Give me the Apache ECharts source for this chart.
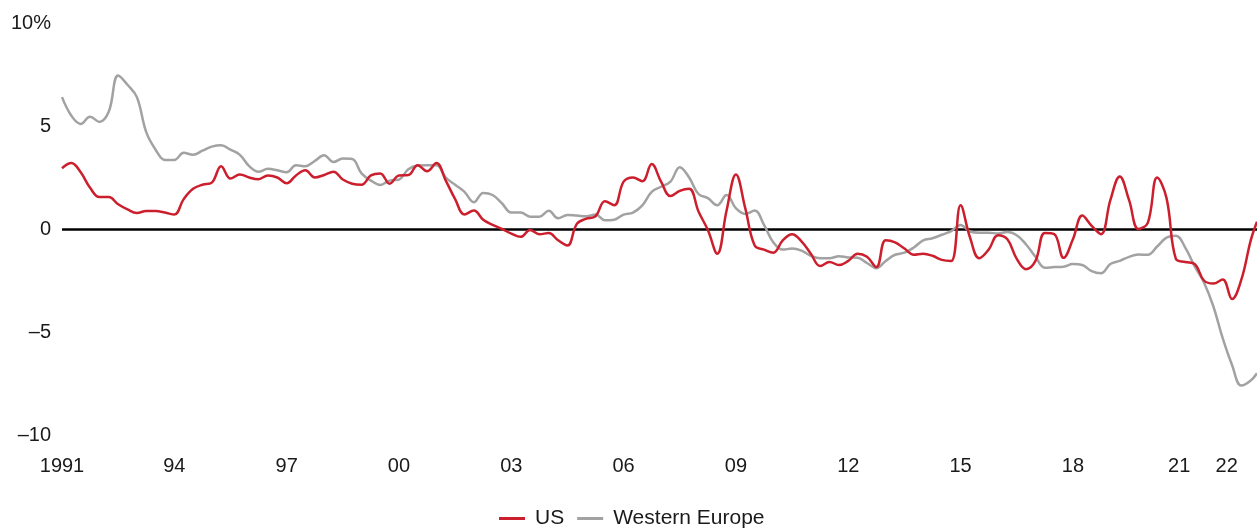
<!DOCTYPE html>
<html>
<head>
<meta charset="utf-8">
<title>US vs Western Europe</title>
<script src="https://cdn.jsdelivr.net/npm/echarts@6/dist/echarts.min.js"></script>
<style>
  html, body { margin: 0; padding: 0; background: #ffffff; }
  #chart { width: 1257px; height: 529px; }
</style>
</head>
<body>
<div id="chart"></div>
<script>
// Quarterly observations from January 1991; the final entry is December 2022.
const startYear = 1991;
const endPeriod = 2022 + 11 / 12;

const usValues = [
  2.95, 3.2, 2.75, 2.0, 1.55, 1.55, 1.2, 0.95, 0.78, 0.87, 0.87, 0.8, 0.7, 1.45, 1.95, 2.15,
  2.25, 3.05, 2.45, 2.65, 2.5, 2.42, 2.6, 2.5, 2.22, 2.6, 2.85, 2.5, 2.62, 2.78, 2.4, 2.2,
  2.15, 2.6, 2.7, 2.2, 2.6, 2.62, 3.1, 2.8, 3.2, 2.35, 1.45, 0.7, 0.9, 0.45, 0.2, 0.0,
  -0.22, -0.38, -0.05, -0.25, -0.2, -0.55, -0.8, 0.25, 0.5, 0.62, 1.35, 1.15, 2.3, 2.5, 2.32, 3.15,
  2.3, 1.6, 1.85, 1.95, 0.85, -0.05, -1.2, 0.9, 2.65, 1.0, -0.8, -1.0, -1.15, -0.55, -0.25, -0.6,
  -1.2, -1.8, -1.6, -1.75, -1.55, -1.2, -1.35, -1.85, -0.55, -0.65, -0.95, -1.25, -1.2, -1.3, -1.5, -1.55,
  1.15, -0.4, -1.42, -1.0, -0.3, -0.5, -1.45, -1.95, -1.55, -0.2, -0.25, -1.4, -0.5, 0.65, 0.15, -0.25,
  1.4, 2.55, 1.4, 0.0, 0.3, 2.5, 1.5, -1.45, -1.6, -1.7, -2.5, -2.65, -2.45, -3.4, -2.45, -0.55,
  0.35
];

const westernEuropeValues = [
  6.4, 5.5, 5.1, 5.45, 5.2, 5.7, 7.45, 7.0, 6.4, 4.7, 3.85, 3.35, 3.35, 3.7, 3.6, 3.8,
  4.0, 4.07, 3.85, 3.6, 3.05, 2.78, 2.92, 2.85, 2.75, 3.1, 3.05, 3.3, 3.58, 3.25, 3.42, 3.4,
  2.7, 2.35, 2.14, 2.35, 2.4, 2.9, 3.08, 3.1, 3.1, 2.5, 2.15, 1.8, 1.3, 1.75, 1.65, 1.25,
  0.8, 0.8, 0.6, 0.6, 0.88, 0.52, 0.68, 0.65, 0.62, 0.7, 0.42, 0.45, 0.7, 0.8, 1.15, 1.8,
  2.05, 2.3, 3.0, 2.5, 1.7, 1.5, 1.15, 1.65, 1.0, 0.73, 0.9, 0.2, -0.65, -1.0, -0.95, -1.05,
  -1.3, -1.42, -1.42, -1.32, -1.38, -1.4, -1.65, -1.9, -1.55, -1.25, -1.15, -0.9, -0.55, -0.45, -0.28, -0.1,
  0.2, -0.12, -0.18, -0.18, -0.22, -0.15, -0.3, -0.75, -1.35, -1.88, -1.85, -1.83, -1.7, -1.75, -2.05, -2.15,
  -1.7, -1.55, -1.35, -1.24, -1.25, -0.85, -0.42, -0.33, -0.9, -1.8, -2.6, -3.75, -5.3, -6.6, -7.6, -7.35,
  -7.0
];

const xTickYears = [1991, 1994, 1997, 2000, 2003, 2006, 2009, 2012, 2015, 2018, 2021, 2022];
const yTicks = [-10, -5, 0, 5, 10];

const periods = usValues.map((_, i) =>
  i < usValues.length - 1 ? startYear + i / 4 : endPeriod
);
const toPairs = values => values.map((v, i) => [periods[i], v]);

const RED = '#cc1f2d';
const GREY = '#a2a2a2';
const TEXT = '#1a1a1a';
const FONT = '"Liberation Sans", Arial, Helvetica, sans-serif';

const chart = echarts.init(document.getElementById('chart'), null, { renderer: 'canvas' });

chart.setOption({
  animation: false,
  backgroundColor: '#ffffff',
  textStyle: { fontFamily: FONT, color: TEXT },
  grid: { left: 62, right: 0, top: 23, bottom: 94, containLabel: false },
  legend: {
    data: ['US', 'Western Europe'],
    top: 508,
    left: 499,
    padding: 0,
    icon: 'rect',
    itemWidth: 26,
    itemHeight: 3,
    itemGap: 13,
    textStyle: { fontSize: 21, color: TEXT, fontFamily: FONT, padding: [0, 0, 0, 5] }
  },
  xAxis: {
    type: 'value',
    min: startYear,
    max: endPeriod,
    axisLine: { show: false },
    axisTick: { show: false },
    splitLine: { show: false },
    axisLabel: {
      customValues: xTickYears,
      margin: 21,
      fontSize: 20,
      color: TEXT,
      fontFamily: FONT,
      formatter: v => {
        const y = Math.round(v);
        if (y === 1991) return String(y);
        const short = String(y % 100).padStart(2, '0');
        if (y === 2021) return '{l|' + short + '}';
        if (y === 2022) return '{r|' + short + '}';
        return short;
      },
      rich: {
        l: { fontSize: 20, color: TEXT, fontFamily: FONT, padding: [0, 12, 0, 0] },
        r: { fontSize: 20, color: TEXT, fontFamily: FONT, padding: [0, 0, 0, 8] }
      }
    }
  },
  yAxis: {
    type: 'value',
    min: yTicks[0],
    max: yTicks[yTicks.length - 1],
    interval: 5,
    axisLine: { show: false },
    axisTick: { show: false },
    splitLine: { show: false },
    axisLabel: {
      margin: 11,
      fontSize: 20,
      color: TEXT,
      fontFamily: FONT,
      formatter: v => {
        if (v === 10) return '10%';
        if (v < 0) return '\u2013' + Math.abs(v);
        return String(v);
      }
    }
  },
  series: [
    {
      name: 'Western Europe',
      type: 'line',
      data: toPairs(westernEuropeValues),
      smooth: 0.4,
      showSymbol: false,
      symbol: 'none',
      lineStyle: { color: GREY, width: 2.5 },
      itemStyle: { color: GREY },
      z: 2
    },
    {
      name: 'US',
      type: 'line',
      data: toPairs(usValues),
      smooth: 0.4,
      showSymbol: false,
      symbol: 'none',
      lineStyle: { color: RED, width: 2.5 },
      itemStyle: { color: RED },
      z: 3,
      markLine: {
        silent: true,
        symbol: 'none',
        label: { show: false },
        lineStyle: { color: '#000000', width: 2.5, type: 'solid' },
        data: [{ yAxis: 0 }],
        z: 1
      }
    }
  ]
});
</script>
</body>
</html>
